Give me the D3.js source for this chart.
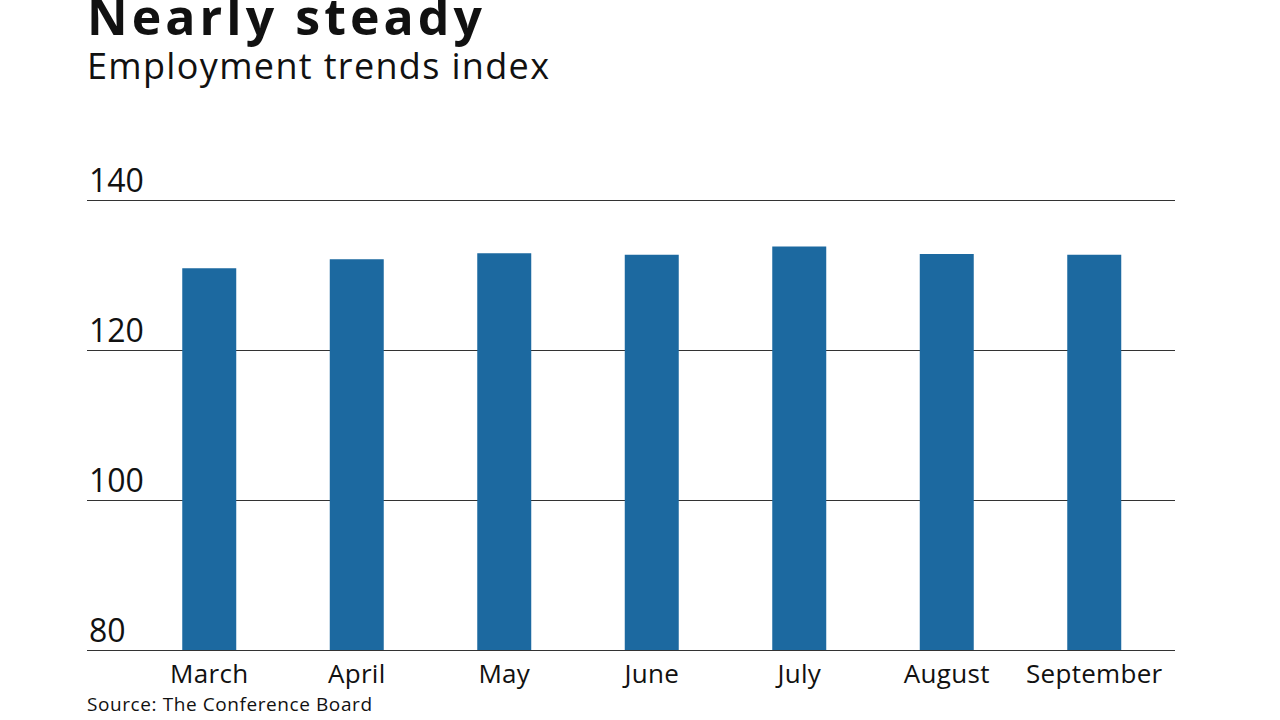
<!DOCTYPE html>
<html>
<head>
<meta charset="utf-8">
<script src="https://cdn.jsdelivr.net/npm/d3@7"></script>
<style>
  html, body { margin: 0; padding: 0; background: #fff; }
  svg { display: block; }
  text { font-family: "Open Sans", Lato, sans-serif; fill: #111; }
</style>
</head>
<body>
<svg id="chart" width="1280" height="720"></svg>
<script>
const categories = ["March", "April", "May", "June", "July", "August", "September"];
const values = [130.9, 132.1, 132.9, 132.7, 133.8, 132.8, 132.7];
const yTicks = [80, 100, 120, 140];
const title = "Nearly steady";
const subtitle = "Employment trends index";
const source = "Source: The Conference Board";

const svg = d3.select("#chart");
const gridLeft = 87, gridRight = 1175;
const plotTop = 200, plotBottom = 650;

const x = d3.scaleBand().domain(categories).range([135.5, 1168]).paddingInner(0.634).paddingOuter(0.317);
const y = d3.scaleLinear().domain([80, 140]).range([plotBottom, plotTop]);

// Titles
svg.append("text").attr("x", 87).attr("y", 35)
  .attr("font-size", 50).attr("font-weight", 700)
  .attr("textLength", 395).attr("lengthAdjust", "spacing").text(title);
svg.append("text").attr("x", 87).attr("y", 79)
  .attr("font-size", 36).attr("font-weight", 400)
  .attr("textLength", 462).attr("lengthAdjust", "spacing").text(subtitle);

// Gridlines via axis
const yAxis = d3.axisLeft(y).tickValues(yTicks).tickSize(-(gridRight - gridLeft)).tickFormat("");
const gy = svg.append("g").attr("transform", `translate(${gridLeft},0)`).call(yAxis);
gy.select(".domain").remove();
gy.selectAll(".tick line").attr("stroke", "#333").attr("stroke-width", 1)
  .attr("shape-rendering", "crispEdges");

// Bars
svg.append("g").selectAll("rect").data(values).join("rect")
  .attr("x", (d, i) => x(categories[i]))
  .attr("width", x.bandwidth())
  .attr("y", d => y(d))
  .attr("height", d => y(80) - y(d))
  .attr("fill", "#1c69a0");

// Baseline redraw on top
svg.append("line").attr("x1", gridLeft).attr("x2", gridRight)
  .attr("y1", y(80)).attr("y2", y(80)).attr("stroke", "#333").attr("stroke-width", 1)
  .attr("shape-rendering", "crispEdges");

// Y tick labels
svg.append("g").selectAll("text").data(yTicks).join("text")
  .attr("x", 89).attr("y", d => y(d) - 8)
  .attr("font-size", 32).text(d => d);

// X labels via axis
const xAxis = d3.axisBottom(x).tickSize(0).tickPadding(0);
const gx = svg.append("g").attr("transform", `translate(0,${plotBottom})`).call(xAxis);
gx.select(".domain").remove();
gx.selectAll(".tick text").attr("font-size", 26).attr("font-family", "'Open Sans', sans-serif")
  .attr("fill", "#111").attr("dy", 0).attr("y", 33).attr("letter-spacing", 0.3);

// Source
svg.append("text").attr("x", 87).attr("y", 711).attr("font-size", 19)
  .attr("textLength", 285).attr("lengthAdjust", "spacing").text(source);
</script>
</body>
</html>
